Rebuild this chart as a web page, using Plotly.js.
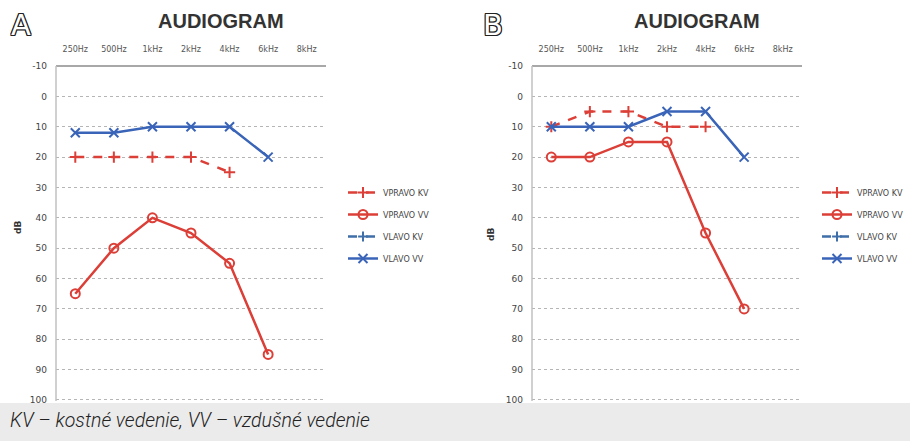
<!DOCTYPE html>
<html>
<head>
<meta charset="utf-8">
<script src="https://cdn.plot.ly/plotly-3.0.1.min.js"></script>
<style>html,body{margin:0;padding:0;background:#fff}#chart{width:910px;height:441px}</style>
</head>
<body>
<div id="chart"></div>
<script>
// ---- data ----
const freqs = ["250Hz", "500Hz", "1kHz", "2kHz", "4kHz", "6kHz", "8kHz"];
const seriesNames = ["VPRAVO KV", "VPRAVO VV", "VLAVO KV", "VLAVO VV"];
const dbTicks = [-10, 0, 10, 20, 30, 40, 50, 60, 70, 80, 90, 100];

// Panel A
const aRightKV = [20, 20, 20, 20, 25, null, null];
const aRightVV = [65, 50, 40, 45, 55, 85, null];
const aLeftKV  = [null, null, null, null, null, null, null];
const aLeftVV  = [12, 12, 10, 10, 10, 20, null];

// Panel B
const bRightKV = [10, 5, 5, 10, 10, null, null];
const bRightVV = [20, 20, 15, 15, 45, 70, null];
const bLeftKV  = [null, null, null, null, null, null, null];
const bLeftVV  = [10, 10, 10, 5, 5, 20, null];

const caption = "KV – kostné vedenie, VV – vzdušné vedenie";
const chartTitle = "AUDIOGRAM";
const panelLabels = ["A", "B"];
const yTitle = "dB";

// ---- styles ----
const RED = "#dc3f37", BLUE = "#3a64b8";
const W = 910, H = 441;
const px = v => v / W, py = v => 1 - v / H;

function mk(xa, ya, leg, y, idx) {
  const st = [
    {color: RED, dash: "dash", sym: "cross-thin-open", size: 8},
    {color: RED, dash: "solid", sym: "circle-open", size: 9},
    {color: "#3f6fa8", dash: "dash", sym: "cross-thin-open", size: 7},
    {color: BLUE, dash: "solid", sym: "x-thin-open", size: 9}
  ][idx];
  return {
    type: "scatter", mode: "lines+markers", x: freqs, y: y,
    name: seriesNames[idx], xaxis: xa, yaxis: ya, legend: leg,
    legendgroup: leg + idx,
    line: {color: st.color, width: 2.5, dash: st.dash},
    marker: {symbol: st.sym, size: st.size, color: st.color, line: {color: st.color, width: 2}},
    connectgaps: false, hoverinfo: "skip"
  };
}

const traces = [
  mk("x", "y", "legend", aRightKV, 0),
  mk("x", "y", "legend", aRightVV, 1),
  mk("x", "y", "legend", aLeftKV, 2),
  mk("x", "y", "legend", aLeftVV, 3),
  mk("x2", "y2", "legend2", bRightKV, 0),
  mk("x2", "y2", "legend2", bRightVV, 1),
  mk("x2", "y2", "legend2", bLeftKV, 2),
  mk("x2", "y2", "legend2", bLeftVV, 3)
];

const tickFont = {family: "DejaVu Sans", size: 8, color: "#555"};
function xax(dom, anchor) {
  return {
    domain: dom, anchor: anchor, type: "category", categoryarray: freqs,
    range: [-0.5, 6.5], side: "top", showline: false,
    showgrid: false, zeroline: false, ticks: "", tickfont: tickFont, ticklabelstandoff: 8,
    fixedrange: true
  };
}
const PAD = 1.2; // pad (in dB) so that the end gridlines are drawn
const unit = (400 - 66) / 110;
function yax(anchor) {
  return {
    domain: [py(400 + PAD * unit), py(66 - PAD * unit)], anchor: anchor,
    range: [dbTicks[dbTicks.length - 1] + PAD, dbTicks[0] - PAD],
    tickvals: dbTicks, ticktext: dbTicks.map(String),
    showline: false,
    showgrid: true, gridcolor: "#b5b5b5", griddash: "dot", gridwidth: 1,
    zeroline: false, ticks: "", tickfont: {family: "DejaVu Sans", size: 9, color: "#444"},
    ticklabelstandoff: 8, fixedrange: true
  };
}
const legFont = {family: "DejaVu Sans", size: 8, color: "#444"};
const outline = "1px 0 0 #222, -1px 0 0 #222, 0 1px 0 #222, 0 -1px 0 #222, 1px 1px 0 #222, -1px -1px 0 #222, 1px -1px 0 #222, -1px 1px 0 #222";

function frame(x0, x1) {
  return [
    {type: "line", xref: "paper", yref: "paper", x0: px(x0), x1: px(x1), y0: py(66), y1: py(66),
     line: {color: "#a8a8a8", width: 2}, layer: "above"},
    {type: "line", xref: "paper", yref: "paper", x0: px(x0), x1: px(x0), y0: py(66), y1: py(401),
     line: {color: "#c0c0c0", width: 1.5}, layer: "above"}
  ];
}

const layout = {
  width: W, height: H, margin: {l: 0, r: 0, t: 0, b: 0},
  paper_bgcolor: "#fff", plot_bgcolor: "rgba(0,0,0,0)",
  xaxis: xax([px(56), px(326)], "y"),
  yaxis: yax("x"),
  xaxis2: xax([px(532), px(802)], "y2"),
  yaxis2: yax("x2"),
  legend: {x: px(343), y: py(178), xanchor: "left", yanchor: "top", font: legFont,
           bgcolor: "rgba(0,0,0,0)", tracegroupgap: 3, itemwidth: 30},
  legend2: {x: px(817), y: py(178), xanchor: "left", yanchor: "top", font: legFont,
            bgcolor: "rgba(0,0,0,0)", tracegroupgap: 3, itemwidth: 30},
  shapes: [
    {type: "rect", xref: "paper", yref: "paper", x0: 0, x1: 1, y0: 0, y1: py(403),
     fillcolor: "#ebebeb", line: {width: 0}, layer: "below"}
  ].concat(frame(56, 326), frame(532, 802)),
  annotations: [
    {text: chartTitle, xref: "paper", yref: "paper", x: px(221), y: py(21), xanchor: "center", yanchor: "middle", showarrow: false,
     font: {family: "Liberation Sans", size: 20, color: "#333", weight: "bold"}},
    {text: chartTitle, xref: "paper", yref: "paper", x: px(697), y: py(21), xanchor: "center", yanchor: "middle", showarrow: false,
     font: {family: "Liberation Sans", size: 20, color: "#333", weight: "bold"}},
    {text: panelLabels[0], xref: "paper", yref: "paper", x: px(21), y: py(25), xanchor: "center", yanchor: "middle", showarrow: false,
     font: {family: "DejaVu Sans", size: 29, color: "#fff", shadow: outline}},
    {text: panelLabels[1], xref: "paper", yref: "paper", x: px(493), y: py(25), xanchor: "center", yanchor: "middle", showarrow: false,
     font: {family: "DejaVu Sans", size: 29, color: "#fff", shadow: outline}},
    {text: yTitle, xref: "paper", yref: "paper", x: px(18), y: py(228), xanchor: "center", yanchor: "middle", showarrow: false, textangle: -90,
     font: {family: "DejaVu Sans", size: 9, color: "#333", weight: "bold"}},
    {text: yTitle, xref: "paper", yref: "paper", x: px(491), y: py(235), xanchor: "center", yanchor: "middle", showarrow: false, textangle: -90,
     font: {family: "DejaVu Sans", size: 9, color: "#333", weight: "bold"}},
    {text: caption, xref: "paper", yref: "paper", x: px(8), y: py(420), xanchor: "left", yanchor: "middle", showarrow: false,
     font: {family: "Roboto", size: 19.5, color: "#222", style: "italic", weight: 300}}
  ]
};

Plotly.newPlot("chart", traces, layout, {displayModeBar: false, staticPlot: true});
</script>
</body>
</html>
